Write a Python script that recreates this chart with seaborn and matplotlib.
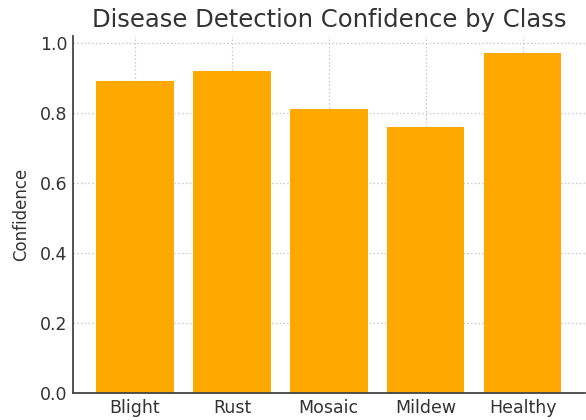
import matplotlib
matplotlib.use("Agg")
import matplotlib.pyplot as plt
import seaborn as sns
import pandas as pd

classes = ["Blight", "Rust", "Mosaic", "Mildew", "Healthy"]
confidence = [0.89, 0.92, 0.81, 0.76, 0.97]

sns.set_style("white")
plt.rcParams["font.family"] = ["DejaVu Sans"]

df = pd.DataFrame({"Class": classes, "Confidence": confidence})

fig = plt.figure(figsize=(5.86, 4.2), dpi=100)
ax = fig.add_axes([0.1246, 0.0643, 0.873, 0.849])

sns.barplot(data=df, x="Class", y="Confidence", color="#FFA800",
            saturation=1, width=0.8, linewidth=0, ax=ax, zorder=2)

n = len(classes)
ax.set_xlim(-0.64, n - 1 + 0.64)
ax.set_ylim(0, max(confidence) * 1.05)
ax.set_yticks([0.0, 0.2, 0.4, 0.6, 0.8, 1.0])

ax.set_axisbelow(True)
ax.grid(True, axis="both", linestyle=(0, (1.2, 1.8)), color="#c8c8c8",
        linewidth=0.9, zorder=0)

for side in ["top", "right"]:
    ax.spines[side].set_visible(False)
for side in ["left", "bottom"]:
    ax.spines[side].set_color("#444444")
    ax.spines[side].set_linewidth(1.3)

ax.tick_params(axis="both", direction="in", length=5, width=1.1,
               color="#444444", labelcolor="#333333", labelsize=12.5, pad=4)

ax.set_xlabel("")
ax.set_ylabel("Confidence", fontsize=12, color="#333333", labelpad=7)
ax.set_title("Disease Detection Confidence by Class", fontsize=17.5,
             color="#333333", pad=7)

fig.savefig("out.png", dpi=100)
